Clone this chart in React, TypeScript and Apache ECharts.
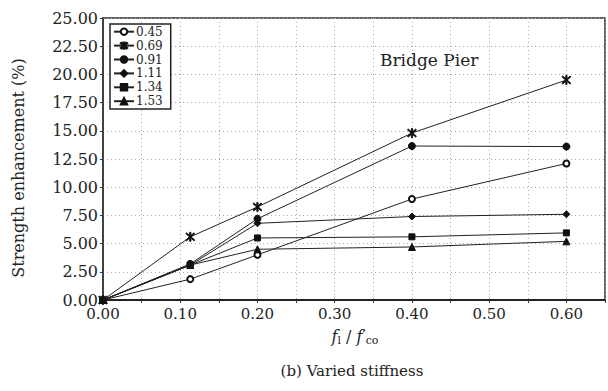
import React, { useEffect, useRef } from "react";
import * as echarts from "echarts";

const xValues = [0, 0.113, 0.2, 0.4, 0.6];
const seriesNames = ["0.45", "0.69", "0.91", "1.11", "1.34", "1.53"];
const s045 = [0, 1.85, 4.0, 8.95, 12.1];
const s069 = [0, 5.6, 8.25, 14.8, 19.5];
const s091 = [0, 3.2, 7.2, 13.65, 13.6];
const s111 = [0, 3.1, 6.8, 7.4, 7.6];
const s134 = [0, 3.1, 5.5, 5.6, 5.95];
const s153 = [0, 3.1, 4.5, 4.7, 5.2];
const yTicks = [0, 2.5, 5, 7.5, 10, 12.5, 15, 17.5, 20, 22.5, 25];

const FONT = "DejaVu Serif";
const INK = "#222";
const asterisk =
  "path://M4.4 0 H5.6 V10 H4.4 Z M0.6 1.4 L1.4 0.6 L9.4 8.6 L8.6 9.4 Z M8.6 0.6 L9.4 1.4 L1.4 9.4 L0.6 8.6 Z";

const symbols: [string, number][] = [
  ["emptyCircle", 6],
  [asterisk, 9],
  ["circle", 7],
  ["diamond", 7],
  ["rect", 6],
  ["triangle", 7],
];

export default function App() {
  const ref = useRef<HTMLDivElement>(null);
  useEffect(() => {
    if (!ref.current) return;
    const chart = echarts.init(ref.current, undefined, { renderer: "svg" });
    const all = [s045, s069, s091, s111, s134, s153];
    chart.setOption({
      animation: false,
      backgroundColor: "#fff",
      grid: {
        left: 103,
        right: 0,
        top: 18,
        bottom: 91,
        show: true,
        borderColor: "#333",
        borderWidth: 1.5,
      },
      legend: {
        orient: "vertical",
        left: 110,
        top: 24,
        data: seriesNames,
        itemWidth: 20,
        itemHeight: 8,
        itemGap: 0.5,
        padding: [1, 8, 1, 3],
        borderColor: "#222",
        borderWidth: 1.5,
        backgroundColor: "#fff",
        textStyle: { fontFamily: FONT, fontSize: 12, color: INK, lineHeight: 13.4, padding: [0, 0, 0, -3] },
      },
      xAxis: {
        type: "value",
        min: 0,
        max: 0.65,
        interval: 0.05,
        axisLine: { show: true, lineStyle: { color: "#222", width: 2 } },
        axisTick: { show: true, length: 3, lineStyle: { color: "#333" } },
        axisLabel: {
          fontFamily: FONT,
          fontSize: 15,
          color: INK,
          margin: 6,
          formatter: (v: number) => (Math.round(v * 100) % 10 === 0 ? v.toFixed(2) : ""),
        },
        splitLine: { show: true, lineStyle: { color: "#aaa", type: [1, 3], width: 1 } },
      },
      yAxis: {
        type: "value",
        min: yTicks[0],
        max: yTicks[yTicks.length - 1],
        interval: 2.5,
        axisLine: { show: true, lineStyle: { color: "#333", width: 1.5 } },
        axisTick: { show: true, length: 3, lineStyle: { color: "#333" } },
        axisLabel: {
          fontFamily: FONT,
          fontSize: 16,
          color: INK,
          margin: 5,
          formatter: (v: number) => v.toFixed(2),
        },
        splitLine: { show: true, lineStyle: { color: "#aaa", type: [1, 3], width: 1 } },
      },
      series: all.map((d, i) => ({
        name: seriesNames[i],
        type: "line",
        data: d.map((v, j) => [xValues[j], v]),
        symbol: symbols[i][0],
        symbolSize: symbols[i][1],
        showAllSymbol: true,
        lineStyle: { color: "#222", width: 1 },
        itemStyle: { color: "#111", borderColor: "#111", borderWidth: 1 },
        z: 3 + i,
      })),
      graphic: [
        {
          type: "text",
          left: 380,
          top: 51,
          style: { text: "Bridge Pier", font: `17px "${FONT}"`, fill: INK },
        },
        {
          type: "text",
          x: 18,
          y: 168,
          rotation: Math.PI / 2,
          style: {
            text: "Strength enhancement (%)",
            font: `16px "${FONT}"`,
            fill: INK,
            align: "center",
            verticalAlign: "middle",
          },
        },
        {
          type: "text",
          x: 355,
          y: 336,
          style: {
            text: "{i|f}{s|l}{n| / }{i|f}{p|\u2032}{s|co}",
            align: "center",
            verticalAlign: "middle",
            rich: {
              i: { fontFamily: FONT, fontStyle: "italic", fontSize: 16, fill: INK },
              n: { fontFamily: FONT, fontSize: 16, fill: INK },
              s: { fontFamily: FONT, fontSize: 11, fill: INK, padding: [8, 0, 0, 0] },
              p: { fontFamily: FONT, fontSize: 14, fill: INK },
            },
          },
        },
        {
          type: "text",
          x: 352,
          y: 371,
          style: {
            text: "(b) Varied stiffness",
            font: `15px "${FONT}"`,
            fill: INK,
            align: "center",
            verticalAlign: "middle",
          },
        },
      ],
    });
    return () => chart.dispose();
  }, []);
  return (
    <div
      ref={ref}
      style={{ position: "fixed", left: 0, top: 0, width: 608, height: 391, background: "#fff" }}
    />
  );
}
